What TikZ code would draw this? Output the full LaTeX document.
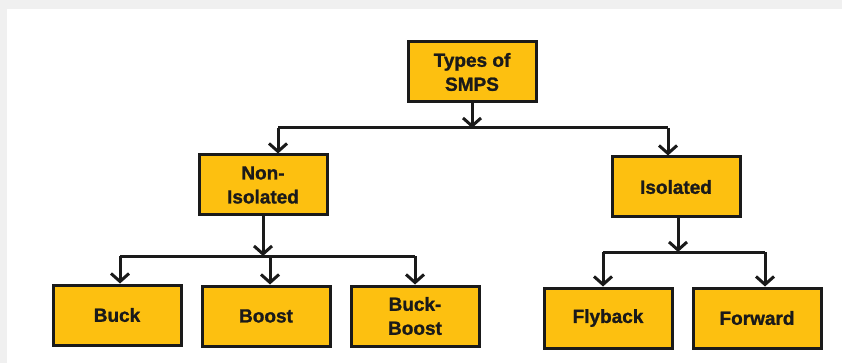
\documentclass[tikz,border=0pt]{standalone}
\usepackage{fontspec}
\setmainfont{Liberation Sans}[BoldFeatures={FakeBold=1.2}]
\usetikzlibrary{arrows.meta}
\usepackage{xcolor}
\definecolor{boxyellow}{HTML}{FDC010}
\definecolor{edgegrey}{HTML}{F0F0F0}
\definecolor{inkblack}{HTML}{1A1A1A}
\tikzset{
  typebox/.style={draw=inkblack,fill=boxyellow,line width=3pt,
    minimum width=128pt,minimum height=60pt,align=center,
    text=inkblack,font=\fontsize{19}{24}\selectfont\bfseries},
  link/.style={line width=3pt,inkblack},
  arr/.style={link,-{Straight Barb[length=8pt,width=18pt]}}
}

\begin{document}
\begin{tikzpicture}[x=1pt,y=-1pt]
  % Page and frame
  \useasboundingbox (0,0) rectangle (842,363);
  \fill[edgegrey] (0,0) rectangle (842,363);
  \fill[white] (7,9) rectangle (842,363);
  % Boxes
  \node[typebox] (smps) at (472,72) {Types of\\SMPS};
  \node[typebox] (noniso) at (263,185) {Non-\\Isolated};
  \node[typebox] (iso) at (676,187) {Isolated};
  \node[typebox] (buck) at (117,315) {Buck};
  \node[typebox] (boost) at (266,316) {Boost};
  \node[typebox] (buckboost) at (415,316) {Buck-\\Boost};
  \node[typebox] (flyback) at (608,318) {Flyback};
  \node[typebox] (forward) at (757,318) {Forward};
  % Branch points
  \coordinate (topbar) at (472,128);
  \coordinate (topleft) at (278,128);
  \coordinate (topright) at (668,128);
  \coordinate (nibar) at (263,256);
  \coordinate (nileft) at (120,256);
  \coordinate (nimid) at (270,256);
  \coordinate (niright) at (415,256);
  \coordinate (isobar) at (678,252);
  \coordinate (isoleft) at (603,252);
  \coordinate (isoright) at (765,252);
  % Types of SMPS
  \draw[arr] (smps) -- (topbar);
  \draw[link] (topleft) -- (topright);
  \draw[arr] (topleft) -- (topleft |- noniso.north);
  \draw[arr] (topright) -- (topright |- iso.north);
  % Non-isolated
  \draw[arr] (noniso) -- (nibar);
  \draw[link] (nileft) -- (niright);
  \draw[arr] (nileft) -- (nileft |- buck.north);
  \draw[arr] (nimid) -- (nimid |- boost.north);
  \draw[arr] (niright) -- (niright |- buckboost.north);
  % Isolated
  \draw[arr] (iso.south -| isobar) -- (isobar);
  \draw[link] (isoleft) -- (isoright);
  \draw[arr] (isoleft) -- (isoleft |- flyback.north);
  \draw[arr] (isoright) -- (isoright |- forward.north);
\end{tikzpicture}
\end{document}
